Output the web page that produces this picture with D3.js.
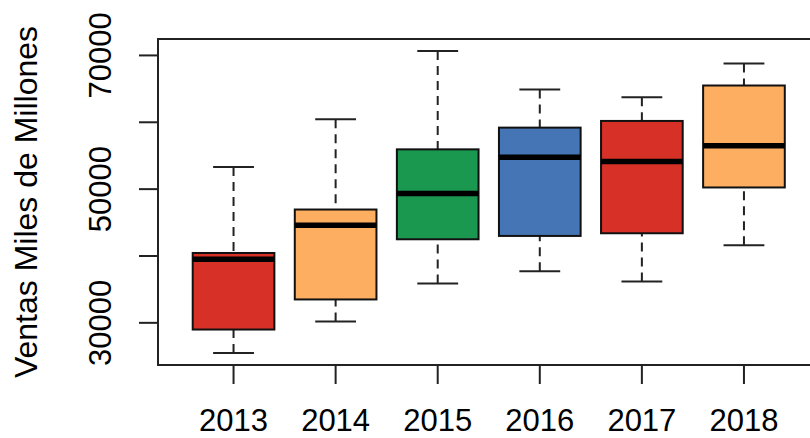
<!DOCTYPE html>
<html>
<head>
<meta charset="utf-8">
<script src="https://cdn.jsdelivr.net/npm/d3@7"></script>
<style>
  html, body { margin: 0; padding: 0; background: #fff; overflow: hidden; }
  svg { display: block; }
  text { font-family: "Liberation Sans", Arial, sans-serif; fill: #000; }
</style>
</head>
<body>
<svg id="chart" width="810" height="438"></svg>
<script>
const years = ["2013", "2014", "2015", "2016", "2017", "2018"];
const lowerWhisker = [25500, 30200, 35900, 37700, 36200, 41600];
const q1 = [29000, 33500, 42500, 43000, 43400, 50250];
const medians = [39500, 44600, 49350, 54750, 54150, 56500];
const q3 = [40450, 46950, 55950, 59200, 60200, 65500];
const upperWhisker = [53300, 60450, 70650, 64900, 63750, 68800];
const boxColors = ["#D73027", "#FDAE61", "#1A9850", "#4575B4", "#D73027", "#FDAE61"];
const yTicks = [30000, 40000, 50000, 60000, 70000];
const yTickLabels = ["30000", "", "50000", "", "70000"];
const yTitle = "Ventas Miles de Millones";

const svg = d3.select("#chart");
const plotLeft = 158, plotTop = 39, plotBottom = 365, plotRight = 819.5;

// R-style 4% axis extension
const dMin = d3.min(lowerWhisker), dMax = d3.max(upperWhisker);
const ext = (dMax - dMin) * 0.04;
const y = d3.scaleLinear().domain([dMin - ext, dMax + ext]).range([plotBottom, plotTop]);
const n = years.length;
const xExt = n * 0.04;
const x = d3.scaleLinear().domain([0.5 - xExt, n + 0.5 + xExt]).range([plotLeft, plotRight]);

const boxW = (x(2) - x(1)) * 0.8;
const stapleW = boxW * 0.5;

const data = years.map((yr, i) => ({
  yr, pos: i + 1, lo: lowerWhisker[i], q1: q1[i], med: medians[i], q3: q3[i], hi: upperWhisker[i], color: boxColors[i]
}));

const g = svg.append("g");
const boxes = g.selectAll("g.box").data(data).enter().append("g").attr("class", "box");

// whiskers (drawn from staple toward box, as R does)
boxes.append("line")
  .attr("x1", d => x(d.pos)).attr("x2", d => x(d.pos))
  .attr("y1", d => y(d.hi)).attr("y2", d => y(d.q3))
  .attr("stroke", "#222").attr("stroke-width", 2).attr("stroke-dasharray", "9,6");
boxes.append("line")
  .attr("x1", d => x(d.pos)).attr("x2", d => x(d.pos))
  .attr("y1", d => y(d.lo)).attr("y2", d => y(d.q1))
  .attr("stroke", "#222").attr("stroke-width", 2).attr("stroke-dasharray", "9,6");
// staples
boxes.append("line")
  .attr("x1", d => x(d.pos) - stapleW / 2).attr("x2", d => x(d.pos) + stapleW / 2)
  .attr("y1", d => y(d.hi)).attr("y2", d => y(d.hi))
  .attr("stroke", "#222").attr("stroke-width", 2);
boxes.append("line")
  .attr("x1", d => x(d.pos) - stapleW / 2).attr("x2", d => x(d.pos) + stapleW / 2)
  .attr("y1", d => y(d.lo)).attr("y2", d => y(d.lo))
  .attr("stroke", "#222").attr("stroke-width", 2);
// boxes
boxes.append("rect")
  .attr("x", d => x(d.pos) - boxW / 2)
  .attr("width", boxW)
  .attr("y", d => y(d.q3))
  .attr("height", d => y(d.q1) - y(d.q3))
  .attr("fill", d => d.color)
  .attr("stroke", "#111").attr("stroke-width", 2);
// medians
boxes.append("line")
  .attr("x1", d => x(d.pos) - boxW / 2).attr("x2", d => x(d.pos) + boxW / 2)
  .attr("y1", d => y(d.med)).attr("y2", d => y(d.med))
  .attr("stroke", "#000").attr("stroke-width", 5.5);

// frame
svg.append("rect")
  .attr("x", plotLeft).attr("y", plotTop)
  .attr("width", plotRight - plotLeft).attr("height", plotBottom - plotTop)
  .attr("fill", "none").attr("stroke", "#222").attr("stroke-width", 2);

// y axis
const yAxis = svg.append("g");
yAxis.selectAll("line.tick").data(yTicks).enter().append("line")
  .attr("x1", plotLeft - 19).attr("x2", plotLeft)
  .attr("y1", d => y(d)).attr("y2", d => y(d))
  .attr("stroke", "#222").attr("stroke-width", 2);
yAxis.selectAll("text.tl").data(yTicks).enter().append("text")
  .attr("transform", d => `translate(111,${y(d)}) rotate(-90)`)
  .attr("text-anchor", "middle")
  .style("font-size", "31px")
  .text((d, i) => yTickLabels[i]);

// x axis
const xAxis = svg.append("g");
xAxis.selectAll("line.tick").data(data).enter().append("line")
  .attr("x1", d => x(d.pos)).attr("x2", d => x(d.pos))
  .attr("y1", plotBottom).attr("y2", plotBottom + 19)
  .attr("stroke", "#222").attr("stroke-width", 2);
xAxis.selectAll("text.tl").data(data).enter().append("text")
  .attr("x", d => x(d.pos)).attr("y", 431)
  .attr("text-anchor", "middle")
  .style("font-size", "31px")
  .text(d => d.yr);

// y title
svg.append("text")
  .attr("transform", `translate(37,${(plotTop + plotBottom) / 2}) rotate(-90)`)
  .attr("text-anchor", "middle")
  .style("font-size", "32px")
  .text(yTitle);
</script>
</body>
</html>
